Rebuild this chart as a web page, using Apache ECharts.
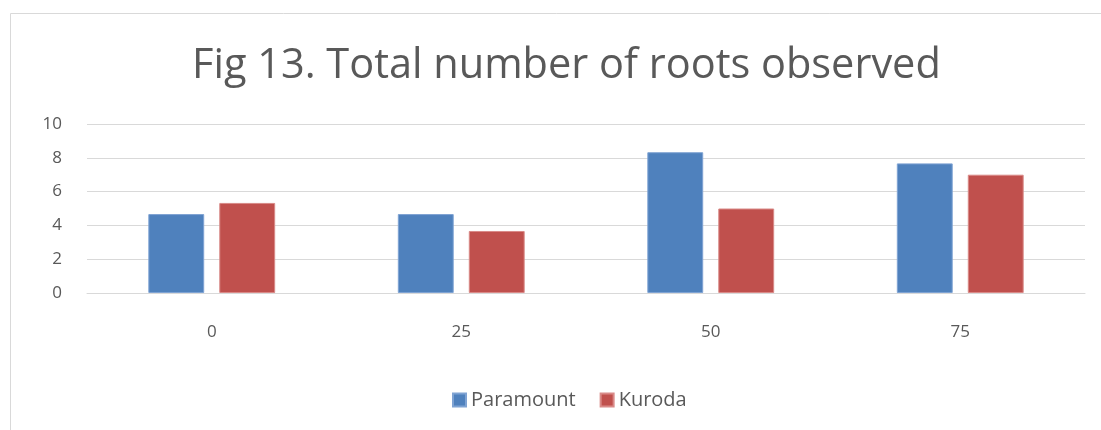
<!DOCTYPE html>
<html lang="en">
  <head>
    <meta charset="UTF-8" />
    <title>Fig 13</title>
    <script src="https://cdn.jsdelivr.net/npm/echarts@6/dist/echarts.min.js"></script>
    <style>
      html, body { margin: 0; padding: 0; background: #fff; }
      #box { width: 1101px; height: 430px; }
    </style>
  </head>
  <body>
    <div id="box"></div>
    <script>
      // data
      var categories = ["0", "25", "50", "75"];
      var paramount = [4.67, 4.67, 8.33, 7.67];
      var kuroda = [5.33, 3.67, 5, 7];
      var yTicks = [0, 2, 4, 6, 8, 10];

      var txt = "#595959";
      var font = "'Open Sans', sans-serif";

      var myChart = echarts.init(document.getElementById("box"));
      var option = {
        animation: false,
        graphic: [
          {
            type: "rect",
            shape: { x: 10.5, y: 13.5, width: 1200, height: 600 },
            style: { fill: "none", stroke: "#d9d9d9", lineWidth: 1 },
            silent: true
          }
        ],
        title: {
          text: "Fig 13. Total number of roots observed",
          left: 187,
          top: 40,
          textStyle: { color: txt, fontSize: 41.5, fontWeight: "normal", fontFamily: font }
        },
        legend: {
          top: 385,
          left: 447,
          itemWidth: 13,
          itemHeight: 13,
          itemGap: 24,
          icon: "rect",
          textStyle: { color: txt, fontSize: 20, fontFamily: font }
        },
        grid: { left: 87, right: 16, top: 124, bottom: 137 },
        xAxis: {
          type: "category",
          data: categories,
          axisLine: { lineStyle: { color: "#d9d9d9", width: 1 } },
          axisTick: { show: false },
          axisLabel: { color: txt, fontSize: 17, fontFamily: font, margin: 31 }
        },
        yAxis: {
          type: "value",
          min: yTicks[0],
          max: yTicks[yTicks.length - 1],
          interval: 2,
          axisLine: { show: false },
          axisTick: { show: false },
          splitLine: { lineStyle: { color: "#d9d9d9", width: 1 } },
          axisLabel: { color: txt, fontSize: 17, fontFamily: font, margin: 25 }
        },
        series: [
          {
            name: "Paramount",
            type: "bar",
            data: paramount,
            barWidth: "22.4%",
            barGap: "27%",
            itemStyle: { color: "#4f81bd", borderColor: "#7fa3d3", borderWidth: 1 }
          },
          {
            name: "Kuroda",
            type: "bar",
            data: kuroda,
            barWidth: "22.4%",
            itemStyle: { color: "#c0504d", borderColor: "#d98a88", borderWidth: 1 }
          }
        ]
      };
      myChart.setOption(option);
    </script>
  </body>
</html>
